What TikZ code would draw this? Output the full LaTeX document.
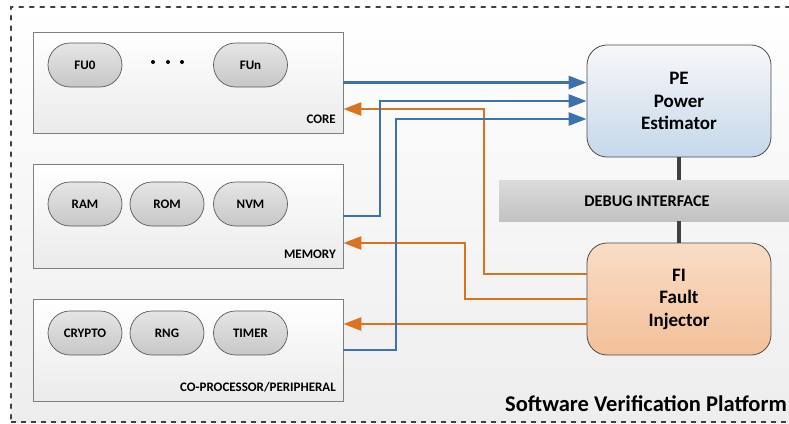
\documentclass[tikz,border=0pt]{standalone}
\usepackage{fontspec}
\setmainfont{Carlito}
\usetikzlibrary{arrows.meta,shapes.misc,calc}
\definecolor{linkblue}{HTML}{3E72AE}
\definecolor{linkorange}{HTML}{D9731F}
\definecolor{edgegray}{HTML}{7F7F7F}
\definecolor{darkline}{HTML}{404040}
\tikzset{
  block/.style={draw=edgegray, line width=0.8pt, top color=white, bottom color=black!8,
    rectangle, minimum width=310pt, minimum height=101pt, inner sep=0pt},
  unit/.style={draw=black!65, line width=0.7pt, rounded rectangle, top color=black!10,
    bottom color=black!22, minimum width=74pt, minimum height=44pt, inner sep=0pt,
    font=\bfseries\fontsize{13}{15}\selectfont},
  tag/.style={anchor=east, font=\bfseries\fontsize{13}{15}\selectfont, inner sep=0pt},
  tool/.style={draw=black!70, line width=0.8pt, rounded corners=20pt, minimum width=184pt,
    minimum height=112pt, align=center, inner sep=0pt,
    font=\bfseries\fontsize{19}{22.5}\selectfont},
  bluelink/.style={draw=linkblue, line width=2.6pt, -{Triangle[length=18pt,width=13pt]}},
  orangelink/.style={draw=linkorange, line width=2.6pt, -{Triangle[length=18pt,width=13pt]}},
  bus/.style={draw=darkline, line width=4pt}
}
\begin{document}
\begin{tikzpicture}[x=1pt,y=-1pt]
\useasboundingbox (0,0) rectangle (789,423);
% platform frame
\shade[top color=white, bottom color=black!7] (11,7) rectangle (800,422);
\draw[darkline, line width=2.6pt, line cap=round, dash pattern=on 3.5pt off 7pt] (800,7) -- (11,7) -- (11,422);
\draw[darkline, line width=1.6pt, dash pattern=on 5pt off 5pt] (11,422) -- (800,422);

% core
\node[block] (core) at (188,82.5) {};
\node[unit] (fu0) at (85,65) {FU0};
\node[unit] (fun) at (250.5,65) {FUn};
\foreach \dx in {153,168,182} \fill (\dx,62) circle (2pt);
\node[tag] (coretag) at (336,119) {CORE};

% memory
\node[block, minimum height=104pt] (mem) at (188,216) {};
\node[unit] (ram) at (85,204) {RAM};
\node[unit] (rom) at (167,204) {ROM};
\node[unit] (nvm) at (250.5,204) {NVM};
\node[tag] (memtag) at (336,254) {MEMORY};

% co-processor / peripheral
\node[block, minimum height=102pt] (cop) at (188,350) {};
\node[unit] (crypto) at (85,333) {CRYPTO};
\node[unit] (rng) at (167,333) {RNG};
\node[unit] (timer) at (250.5,333) {TIMER};
\node[tag] (coptag) at (336,387) {CO-PROCESSOR/PERIPHERAL};

% debug interface and tools
\node[rectangle, top color=black!14, bottom color=black!24, minimum width=300pt,
  minimum height=41pt, inner sep=0pt] (dbg) at (649,200.5) {};
\node[font=\bfseries\fontsize{16.3}{19}\selectfont] (dbgtxt) at (647,201) {DEBUG INTERFACE};
\node[tool, top color=blue!3!black!3!white, bottom color={rgb,255:red,197;green,216;blue,235}] (pe) at (679,101)
  {PE\\Power\\Estimator};
\node[tool, top color={rgb,255:red,249;green,221;blue,199}, bottom color={rgb,255:red,243;green,192;blue,152}] (fi) at (679,299)
  {FI\\Fault\\Injector};
\draw[bus] (pe.south) -- (pe.south |- dbg.north);
\draw[bus] (fi.north |- dbg.south) -- (fi.north);

% fault injection paths
\draw[orangelink] ($(fi.west)+(0,-25)$) -| (484,109) -- ($(core.east)+(0,26.5)$);
\draw[orangelink] (fi.west) -| (465,243) -- ($(mem.east)+(0,27)$);
\draw[orangelink] ($(fi.west)+(0,25)$) -- ($(cop.east)+(0,-26)$);

% power traces
\draw[bluelink] (core.east) -- (core.east -| pe.west);
\draw[bluelink] (mem.east) -- (380,216) |- (pe.west);
\draw[bluelink] (cop.east) -- (396,350) |- ($(pe.west)+(0,18)$);

\node[anchor=east, inner sep=0pt, font=\bfseries\fontsize{22.5}{26}\selectfont] (title) at (787,404)
  {Software Verification Platform};
\end{tikzpicture}
\end{document}
